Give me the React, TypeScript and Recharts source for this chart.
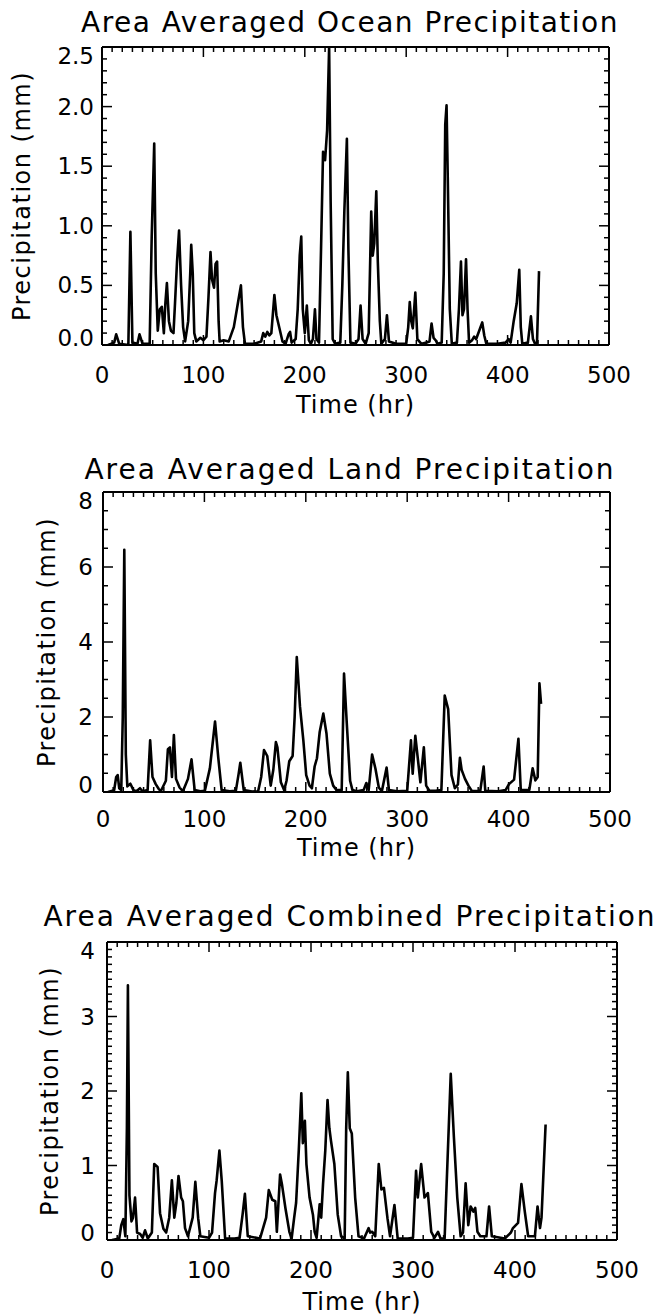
import React from "react";
import { Line, LineChart, ReferenceLine, XAxis, YAxis } from "recharts";

// [hour, mm]
const OCEAN: [number, number][] = [
  [6, 0], [12, 0.02], [14, 0.09], [17, 0.01], [26, 0], [28, 0.95], [30, 0.02], [35, 0.01], [37, 0.09], [40, 0.01],
  [47, 0.01], [49, 0.9], [51.5, 1.69], [53, 0.6], [55, 0.12], [57, 0.3], [59, 0.32], [61, 0.1], [62.5, 0.35], [64, 0.52],
  [66, 0.2], [68, 0.12], [70.5, 0.1], [72, 0.35], [74, 0.7], [76, 0.96], [78, 0.5], [80, 0.15], [82, 0.03], [85, 0.2],
  [87, 0.6], [88, 0.84], [89.5, 0.6], [91, 0.1], [93, 0.03], [97, 0.06], [100, 0.04], [103, 0.07], [105, 0.4], [107, 0.78],
  [108.5, 0.55], [110.5, 0.48], [112, 0.68], [113.5, 0.7], [115, 0.2], [116, 0.03], [120, 0.04], [125, 0.03], [130, 0.15],
  [133, 0.3], [135, 0.4], [137, 0.5], [139, 0.15], [141, 0.01], [150, 0.01], [157, 0.03], [159, 0.1], [161, 0.07],
  [163, 0.11], [165, 0.08], [167, 0.1], [170, 0.42], [172, 0.25], [175, 0.14], [178, 0.03], [181, 0.01], [184, 0.09],
  [185.5, 0.11], [187, 0.02], [191, 0.05], [193, 0.3], [195, 0.75], [196.5, 0.91], [198, 0.3], [200, 0.1], [202, 0.33],
  [204, 0.04], [206, 0.01], [208, 0.05], [210, 0.3], [211.5, 0.05], [214, 0.02], [216, 0.8], [218, 1.62], [220, 1.55],
  [222, 1.8], [224, 2.5], [225.5, 1.2], [227.5, 0.05], [230, 0.01], [235, 0.02], [237, 0.5], [239, 1.12], [241.5, 1.73],
  [243, 0.8], [245, 0.02], [250, 0.01], [253, 0.05], [255, 0.33], [257, 0.05], [260, 0.01], [263, 0.1], [265.5, 1.12],
  [267, 0.75], [268.5, 0.85], [270.5, 1.29], [272, 0.7], [274, 0.2], [275.5, 0.01], [279, 0.05], [281, 0.25], [283, 0.03],
  [290, 0.01], [300, 0.01], [302, 0.15], [303.5, 0.36], [305, 0.2], [306.5, 0.14], [309, 0.44], [311, 0.05], [315, 0.01],
  [320, 0.02], [323, 0.03], [325, 0.18], [327, 0.06], [329, 0.04], [331, 0.01], [335, 0.02], [337, 0.6], [338.5, 1.85],
  [339.8, 2.01], [341, 1.4], [343, 0.3], [345, 0.01], [350, 0.02], [352, 0.3], [354, 0.7], [355.5, 0.25], [357, 0.3],
  [359, 0.72], [360.5, 0.3], [362, 0.02], [365, 0.04], [367, 0.07], [369, 0.05], [372, 0.12], [375, 0.19], [377, 0.08],
  [379, 0.01], [390, 0.01], [398, 0.02], [401, 0.05], [403, 0.02], [406, 0.2], [409, 0.35], [411.5, 0.63], [413, 0.15],
  [414.5, 0.01], [420, 0.02], [423, 0.24], [425, 0.05], [427, 0.01], [429, 0.02], [431, 0.62],
];

const LAND: [number, number][] = [
  [5, 0], [11, 0.05], [13, 0.4], [14.5, 0.45], [16, 0.1], [18, 0.05], [19.5, 2], [21, 6.46], [22.5, 1], [24, 0.15],
  [27, 0.22], [30, 0.05], [33, 0.02], [36.5, 0.1], [39, 0.02], [44, 0.05], [46.5, 1.38], [48.8, 0.4], [52, 0.21],
  [55, 0.08], [57, 0.02], [62, 0.3], [64, 1.14], [66, 1.19], [68, 0.4], [69.9, 1.52], [72, 0.35], [75.5, 0.12],
  [78.8, 0.02], [83.8, 0.35], [87.3, 0.87], [90.4, 0.05], [96, 0.02], [100.4, 0.03], [105.4, 0.63], [110.5, 1.88],
  [113.7, 0.91], [117, 0.05], [125, 0.02], [131, 0.03], [133.8, 0.49], [135.4, 0.78], [138.8, 0.05], [147, 0.01],
  [153, 0.02], [156, 0.4], [158.8, 1.12], [162, 0.96], [165.4, 0.17], [168, 0.6], [170.5, 1.33], [172, 1.19],
  [175.4, 0.26], [178.7, 0.05], [181, 0.3], [183.7, 0.82], [187, 0.96], [189, 2], [191.1, 3.6], [194.3, 2.27],
  [197.6, 1.37], [200.4, 0.45], [203.7, 0.17], [206, 0.1], [208.7, 0.68], [211, 0.9], [213.7, 1.6], [217.3, 2.09],
  [220.4, 1.56], [223.7, 0.49], [227, 0.17], [230.4, 0.05], [235.4, 0.05], [237.7, 3.16], [240.4, 1.84], [243.7, 0.3],
  [246, 0.05], [250.4, 0.02], [257, 0.05], [259.7, 0.24], [262, 0.05], [265.4, 1.0], [268.7, 0.62], [272, 0.12],
  [275, 0.02], [279.7, 0.65], [282, 0.05], [290, 0.02], [300, 0.03], [303.7, 1.38], [305.4, 0.49], [308, 1.5],
  [310.4, 0.91], [313, 0.26], [316.4, 1.19], [318.7, 0.17], [322, 0.03], [328, 0.03], [333.7, 0.05], [337, 2.57],
  [340.4, 2.21], [343.7, 0.45], [347, 0.1], [350, 0.2], [352, 0.91], [353.7, 0.59], [357, 0.35], [360.4, 0.17],
  [363.7, 0.03], [372, 0.02], [375.4, 0.68], [377, 0.03], [390, 0.02], [397, 0.05], [400.4, 0.21], [405.4, 0.33],
  [409.7, 1.42], [412, 0.05], [420.4, 0.05], [423.7, 0.63], [426.4, 0.31], [428.7, 0.4], [430.4, 2.9], [432, 2.35],
];

const COMBINED: [number, number][] = [
  [5, 0], [12, 0.02], [14, 0.2], [16, 0.28], [18, 0.05], [19.5, 1.5], [20.5, 3.42], [22, 0.6], [24, 0.25], [25.5, 0.3],
  [27.5, 0.57], [29.5, 0.1], [32.5, 0.08], [35, 0.03], [37.3, 0.13], [40, 0.02], [44, 0.1], [46.3, 1.02], [49.6, 0.98],
  [52, 0.36], [55.3, 0.15], [58, 0.1], [61, 0.3], [63.6, 0.8], [66, 0.3], [68, 0.5], [70.1, 0.86], [72.7, 0.57],
  [74.4, 0.52], [76.5, 0.16], [79.4, 0.05], [84, 0.3], [86.6, 0.78], [89.4, 0.29], [91.5, 0.05], [100, 0.03], [103, 0.1],
  [105.9, 0.63], [107.5, 0.8], [110.2, 1.2], [112.5, 0.79], [115.8, 0.02], [125, 0.02], [130, 0.03], [133, 0.35],
  [135.2, 0.62], [138, 0.05], [150, 0.02], [156, 0.3], [158.6, 0.67], [162, 0.54], [165, 0.52], [166.5, 0.11],
  [169.7, 0.88], [171.5, 0.75], [174.9, 0.43], [178.8, 0.11], [181, 0.02], [183.5, 0.3], [185.4, 0.5], [188, 1.2],
  [190.5, 1.97], [192, 1.3], [194, 1.6], [195.5, 1.02], [198.6, 0.57], [201.9, 0.34], [203.6, 0.11], [205.5, 0.03],
  [208.5, 0.48], [210, 0.3], [211.8, 0.75], [214, 1.2], [216.2, 1.88], [218, 1.5], [219.6, 1.33], [222.9, 1.02],
  [226.2, 0.34], [229.5, 0.05], [233, 0.02], [234.5, 1.5], [236.1, 2.25], [238, 1.5], [240, 1.43], [243.3, 0.57],
  [246.6, 0.05], [252, 0.02], [256.5, 0.16], [258, 0.1], [260, 0.11], [263, 0.05], [266.4, 1.02], [269, 0.68],
  [271.5, 0.7], [275, 0.29], [277.5, 0.05], [281.8, 0.47], [285, 0.02], [295, 0.02], [300, 0.03], [303, 0.93],
  [304.7, 0.57], [308, 1.02], [311.3, 0.57], [314.6, 0.63], [317.9, 0.11], [321, 0.03], [324.5, 0.11], [327, 0.02],
  [331, 0.02], [337, 2.23], [340.1, 1.38], [343.4, 0.57], [346.7, 0.05], [349, 0.1], [351.6, 0.76], [354.2, 0.2],
  [356.5, 0.45], [359.2, 0.38], [361, 0.43], [363.2, 0.11], [366, 0.05], [372, 0.05], [374.6, 0.45], [377.3, 0.05],
  [390, 0.02], [396, 0.1], [398, 0.16], [403, 0.23], [406.3, 0.75], [409.6, 0.38], [412.9, 0.05], [419.5, 0.05],
  [422.1, 0.45], [424.5, 0.16], [426, 0.3], [430, 1.55],
];

const X_MAJOR = [0, 100, 200, 300, 400, 500];
const OCEAN_Y = [0, 0.5, 1, 1.5, 2, 2.5];
const LAND_Y = [0, 2, 4, 6, 8];
const COMBINED_Y = [0, 1, 2, 3, 4];

const FONT = "'DejaVu Sans', sans-serif";
const INK = "#000";

// tick positions between 0 and max
const steps = (max: number, step: number) =>
  Array.from({ length: Math.round(max / step) + 1 }, (_, i) => +(i * step).toFixed(3));

const X_TICKS = steps(500, 10);

type Spec = {
  title: string;
  titleSpacing: number;
  series: [number, number][];
  yMajor: number[];
  yStep: number;
  yFmt: (v: number) => string;
  top: number;
  height: number;
  box: { left: number; right: number; top: number; bottom: number };
  xLabelGap: number;
  yLabelGap: number;
  titleY: number;
  yTitleX: number;
  xTitleY: number;
};

const PANELS: Spec[] = [
  {
    title: "Area Averaged Ocean Precipitation",
    titleSpacing: 1.5,
    series: OCEAN,
    yMajor: OCEAN_Y,
    yStep: 0.1,
    yFmt: (v) => v.toFixed(1),
    top: 0,
    height: 440,
    box: { left: 102, right: 609, top: 47, bottom: 345 },
    xLabelGap: 30,
    yLabelGap: 8,
    titleY: 23,
    yTitleX: 22,
    xTitleY: 405,
  },
  {
    title: "Area Averaged Land Precipitation",
    titleSpacing: 2,
    series: LAND,
    yMajor: LAND_Y,
    yStep: 0.5,
    yFmt: (v) => String(v),
    top: 440,
    height: 440,
    box: { left: 103, right: 610, top: 492, bottom: 792 },
    xLabelGap: 27,
    yLabelGap: 10,
    titleY: 470,
    yTitleX: 47,
    xTitleY: 848,
  },
  {
    title: "Area Averaged Combined Precipitation",
    titleSpacing: 2,
    series: COMBINED,
    yMajor: COMBINED_Y,
    yStep: 0.1,
    yFmt: (v) => String(v),
    top: 880,
    height: 435,
    box: { left: 107, right: 617, top: 942, bottom: 1240 },
    xLabelGap: 30,
    yLabelGap: 12,
    titleY: 917,
    yTitleX: 50,
    xTitleY: 1302,
  },
];

const txt: React.CSSProperties = {
  position: "absolute",
  fontFamily: FONT,
  color: INK,
  whiteSpace: "nowrap",
  lineHeight: 1,
};

function Panel({ s }: { s: Spec }) {
  const { box } = s;
  const plotW = box.right - box.left;
  const plotH = box.bottom - box.top;
  const yMax = s.yMajor[s.yMajor.length - 1];
  const data = s.series.map(([t, v]) => ({ t, v }));
  const isMajor = (v: number) => s.yMajor.some((m) => Math.abs(m - v) < 1e-6);

  const xTick = (p: any) => {
    const { x, y, payload } = p;
    const major = X_MAJOR.includes(payload.value);
    const len = major ? 10 : 5;
    return (
      <g>
        <line x1={x} x2={x} y1={y} y2={y - len} stroke={INK} strokeWidth={1.5} />
        <line x1={x} x2={x} y1={y - plotH} y2={y - plotH + len} stroke={INK} strokeWidth={1.5} />
        {major && (
          <text x={x} y={y + s.xLabelGap} textAnchor="middle" dominantBaseline="central"
            fontFamily={FONT} fontSize={23} fill={INK}>
            {payload.value}
          </text>
        )}
      </g>
    );
  };

  const yTick = (p: any) => {
    const { x, y, payload } = p;
    const v = payload.value;
    const major = isMajor(v);
    const len = major ? 10 : 5;
    const dy = Math.abs(v - yMax) < 1e-6 ? 9 : v === 0 ? -7 : 0;
    return (
      <g>
        <line x1={x} x2={x + len} y1={y} y2={y} stroke={INK} strokeWidth={1.5} />
        <line x1={x + plotW} x2={x + plotW - len} y1={y} y2={y} stroke={INK} strokeWidth={1.5} />
        {major && (
          <text x={x - s.yLabelGap} y={y + dy} textAnchor="end" dominantBaseline="central"
            fontFamily={FONT} fontSize={23} fill={INK}>
            {s.yFmt(v)}
          </text>
        )}
      </g>
    );
  };

  // axes take 1px of room each, so the margins give that back
  return (
    <>
      <div style={{ position: "absolute", left: 0, top: s.top }}>
        <LineChart
          width={658}
          height={s.height}
          data={data}
          margin={{
            top: box.top - s.top,
            left: box.left - 1,
            right: 658 - box.right,
            bottom: s.top + s.height - box.bottom - 1,
          }}
        >
          <XAxis
            xAxisId="x"
            dataKey="t"
            type="number"
            domain={[0, 500]}
            ticks={X_TICKS}
            interval={0}
            height={1}
            tickSize={0}
            tickMargin={0}
            tickLine={false}
            tick={xTick}
            axisLine={{ stroke: INK, strokeWidth: 2 }}
            allowDataOverflow
          />
          <YAxis
            yAxisId="y"
            type="number"
            domain={[0, yMax]}
            ticks={steps(yMax, s.yStep)}
            interval={0}
            width={1}
            tickSize={0}
            tickMargin={0}
            tickLine={false}
            tick={yTick}
            axisLine={{ stroke: INK, strokeWidth: 2 }}
            allowDataOverflow
          />
          <ReferenceLine xAxisId="x" yAxisId="y" x={500} stroke={INK} strokeWidth={2} ifOverflow="visible" />
          <ReferenceLine xAxisId="x" yAxisId="y" y={yMax} stroke={INK} strokeWidth={2} ifOverflow="visible" />
          <Line
            xAxisId="x"
            yAxisId="y"
            type="linear"
            dataKey="v"
            stroke={INK}
            strokeWidth={2.6}
            strokeLinejoin="round"
            dot={false}
            isAnimationActive={false}
          />
        </LineChart>
      </div>
      <div style={{ ...txt, left: 350, top: s.titleY, fontSize: 28, letterSpacing: s.titleSpacing, transform: "translate(-50%, -50%)" }}>
        {s.title}
      </div>
      <div
        style={{
          ...txt,
          left: s.yTitleX,
          top: (box.top + box.bottom) / 2,
          fontSize: 24,
          letterSpacing: 1.5,
          transform: "translate(-50%, -50%) rotate(-90deg)",
        }}
      >
        Precipitation (mm)
      </div>
      <div style={{ ...txt, left: (box.left + box.right) / 2, top: s.xTitleY, fontSize: 24, letterSpacing: 1, transform: "translate(-50%, -50%)" }}>
        Time (hr)
      </div>
    </>
  );
}

export default function App() {
  return (
    <div style={{ position: "absolute", left: 0, top: 0, width: 658, height: 1315, background: "#fff" }}>
      {PANELS.map((s) => (
        <Panel key={s.title} s={s} />
      ))}
    </div>
  );
}
